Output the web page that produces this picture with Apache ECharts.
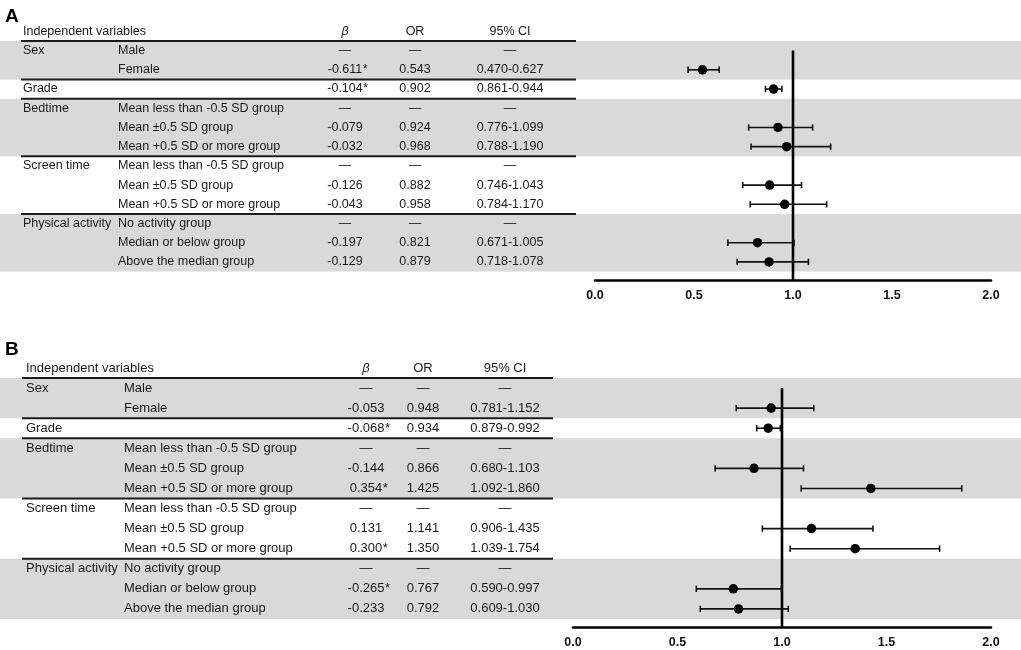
<!DOCTYPE html>
<html><head><meta charset="utf-8">
<script src="https://cdn.jsdelivr.net/npm/echarts@6/dist/echarts.min.js"></script>
<style>html,body{margin:0;padding:0;background:#fff}#c{width:1021px;height:650px}</style>
</head><body><div id="c"></div>
<script>
// ---------- data ----------
const headers = ["Independent variables", "\u03b2", "OR", "95% CI"];
const groupLabels = ["Sex", "", "Grade", "Bedtime", "", "", "Screen time", "", "", "Physical activity", "", ""];
const subLabels = ["Male", "Female", "", "Mean less than -0.5 SD group", "Mean \u00b10.5 SD group", "Mean +0.5 SD or more group",
  "Mean less than -0.5 SD group", "Mean \u00b10.5 SD group", "Mean +0.5 SD or more group",
  "No activity group", "Median or below group", "Above the median group"];
const shadedGroups = [[0, 1], [3, 5], [9, 11]];   // first and last row of each shaded group
const ruleAfterRow = [-1, 1, 2, 5, 8];            // rule lines below these rows (-1 = header)
const xTicks = [0, 0.5, 1, 1.5, 2];

const betaA = [null, -0.611, -0.104, null, -0.079, -0.032, null, -0.126, -0.043, null, -0.197, -0.129];
const sigA  = [false, true, true, false, false, false, false, false, false, false, false, false];
const orA   = [null, 0.543, 0.902, null, 0.924, 0.968, null, 0.882, 0.958, null, 0.821, 0.879];
const loA   = [null, 0.470, 0.861, null, 0.776, 0.788, null, 0.746, 0.784, null, 0.671, 0.718];
const hiA   = [null, 0.627, 0.944, null, 1.099, 1.190, null, 1.043, 1.170, null, 1.005, 1.078];

const betaB = [null, -0.053, -0.068, null, -0.144, 0.354, null, 0.131, 0.300, null, -0.265, -0.233];
const sigB  = [false, false, true, false, false, true, false, false, true, false, true, false];
const orB   = [null, 0.948, 0.934, null, 0.866, 1.425, null, 1.141, 1.350, null, 0.767, 0.792];
const loB   = [null, 0.781, 0.879, null, 0.680, 1.092, null, 0.906, 1.039, null, 0.590, 0.609];
const hiB   = [null, 1.152, 0.992, null, 1.103, 1.860, null, 1.435, 1.754, null, 0.997, 1.030];

// ---------- layout ----------
const FAMILY = "'Liberation Sans', Arial, sans-serif";
const panels = [
  { name: 'A', beta: betaA, sig: sigA, or: orA, lo: loA, hi: hiA,
    top: 41, rowH: 19.21, extra: 0.44, fs: 12.5, c1: 23, c2: 118, cb: 345, cor: 415, cci: 510,
    ruleL: 21, ruleR: 576, fx0: 595, fx1: 991, labelTop: 7 },
  { name: 'B', beta: betaB, sig: sigB, or: orB, lo: loB, hi: hiB,
    top: 378, rowH: 20.08, extra: 0.40, fs: 13, c1: 26, c2: 124, cb: 366, cor: 423, cci: 505,
    ruleL: 22, ruleR: 553, fx0: 573, fx1: 991, labelTop: 340 }
];
const nRows = subLabels.length;
const DASH = '\u2014';

const mctx = document.createElement('canvas').getContext('2d');
function textW(t, font) { mctx.font = font; return mctx.measureText(t).width; }

const grids = [], xAxes = [], yAxes = [], series = [], graphics = [];

panels.forEach((P, pi) => {
  const gTop = P.top - P.rowH;
  const gH = P.rowH * (nRows + 1 + P.extra);
  const yMax = nRows - 0.5 + P.extra;
  const font = P.fs + 'px ' + FAMILY;
  // table grid (full width)
  grids.push({ left: 0, width: 1021, top: gTop, height: gH });
  // forest grid
  grids.push({ left: P.fx0, width: P.fx1 - P.fx0, top: gTop, height: gH });
  const gT = pi * 2, gF = pi * 2 + 1;
  xAxes.push({ gridIndex: gT, type: 'value', min: 0, max: 1021, show: false });
  xAxes.push({ gridIndex: gF, type: 'value', min: 0, max: 2, interval: 0.5,
    axisLine: { show: true, onZero: false, lineStyle: { color: '#000', width: 2.6 } },
    axisTick: { show: false }, splitLine: { show: false },
    axisLabel: { color: '#111', fontWeight: 'bold', fontSize: 12.5, fontFamily: FAMILY, margin: 9,
      formatter: v => v.toFixed(1) } });
  yAxes.push({ gridIndex: gT, type: 'value', min: -1.5, max: yMax, inverse: true, show: false });
  yAxes.push({ gridIndex: gF, type: 'value', min: -1.5, max: yMax, inverse: true, show: false });

  // shaded bands
  series.push({ type: 'custom', xAxisIndex: gT, yAxisIndex: gT, z: 1, silent: true,
    data: shadedGroups.map(g => [g[0], g[1]]),
    renderItem: (params, api) => {
      const p1 = api.coord([0, api.value(0) - 0.5]);
      const p2 = api.coord([1021, api.value(1) + 0.5]);
      return { type: 'rect', shape: { x: p1[0], y: p1[1], width: p2[0] - p1[0], height: p2[1] - p1[1] },
        style: { fill: '#d9d9d9' } };
    } });
  // rules
  series.push({ type: 'custom', xAxisIndex: gT, yAxisIndex: gT, z: 3, silent: true,
    data: ruleAfterRow.map(r => [r]),
    renderItem: (params, api) => {
      const p1 = api.coord([P.ruleL, api.value(0) + 0.5]);
      const p2 = api.coord([P.ruleR, api.value(0) + 0.5]);
      return { type: 'line', shape: { x1: p1[0], y1: p1[1], x2: p2[0], y2: p2[1] },
        style: { stroke: '#1a1a1a', lineWidth: 2 } };
    } });
  // texts
  const texts = [];
  texts.push([P.c1, -1, headers[0], 'left', 'normal']);
  texts.push([P.cb, -1, headers[1], 'center', 'italic']);
  texts.push([P.cor, -1, headers[2], 'center', 'normal']);
  texts.push([P.cci, -1, headers[3], 'center', 'normal']);
  for (let i = 0; i < nRows; i++) {
    if (groupLabels[i]) texts.push([P.c1, i, groupLabels[i], 'left', 'normal']);
    if (subLabels[i]) texts.push([P.c2, i, subLabels[i], 'left', 'normal']);
    if (P.beta[i] === null) {
      texts.push([P.cb, i, DASH, 'center', 'normal']);
      texts.push([P.cor, i, DASH, 'center', 'normal']);
      texts.push([P.cci, i, DASH, 'center', 'normal']);
    } else {
      const bs = P.beta[i].toFixed(3);
      texts.push([P.cb, i, bs, 'center', 'normal']);
      if (P.sig[i]) texts.push([P.cb + textW(bs, font) / 2 + 0.5, i, '*', 'left', 'normal']);
      texts.push([P.cor, i, P.or[i].toFixed(3), 'center', 'normal']);
      texts.push([P.cci, i, P.lo[i].toFixed(3) + '-' + P.hi[i].toFixed(3), 'center', 'normal']);
    }
  }
  series.push({ type: 'custom', xAxisIndex: gT, yAxisIndex: gT, z: 4, silent: true,
    data: texts,
    renderItem: (params, api) => {
      const d = texts[params.dataIndex];
      const p = api.coord([d[0], d[1]]);
      return { type: 'text', x: p[0], y: p[1],
        style: { text: d[2], textAlign: d[3], textVerticalAlign: 'middle', fill: '#1a1a1a',
          font: d[4] + ' ' + P.fs + 'px ' + FAMILY } };
    } });

  // reference line at OR = 1
  series.push({ type: 'line', xAxisIndex: gF, yAxisIndex: gF, z: 5, symbol: 'none', silent: true,
    data: [[1, 0], [1, yMax]], lineStyle: { color: '#000', width: 2.6 } });
  // error bars
  const ci = [];
  for (let i = 0; i < nRows; i++) if (P.lo[i] !== null) ci.push([P.lo[i], P.hi[i], i]);
  series.push({ type: 'custom', xAxisIndex: gF, yAxisIndex: gF, z: 6, silent: true,
    data: ci, encode: { x: [0, 1], y: 2 },
    renderItem: (params, api) => {
      const a = api.coord([api.value(0), api.value(2)]);
      const b = api.coord([api.value(1), api.value(2)]);
      const st = { stroke: '#111', lineWidth: 1.6 };
      return { type: 'group', children: [
        { type: 'line', shape: { x1: a[0], y1: a[1], x2: b[0], y2: b[1] }, style: st },
        { type: 'line', shape: { x1: a[0], y1: a[1] - 3.2, x2: a[0], y2: a[1] + 3.2 }, style: st },
        { type: 'line', shape: { x1: b[0], y1: b[1] - 3.2, x2: b[0], y2: b[1] + 3.2 }, style: st }
      ] };
    } });
  // point estimates
  const pts = [];
  for (let i = 0; i < nRows; i++) if (P.or[i] !== null) pts.push([P.or[i], i]);
  series.push({ type: 'scatter', xAxisIndex: gF, yAxisIndex: gF, z: 7, silent: true,
    data: pts, symbol: 'circle', symbolSize: 9.5, itemStyle: { color: '#000', opacity: 1 } });

  graphics.push({ type: 'text', left: 5, top: P.labelTop,
    style: { text: P.name, font: 'bold 19px ' + FAMILY, fill: '#000' } });
});

const chart = echarts.init(document.getElementById('c'), null, { renderer: 'canvas' });
chart.setOption({
  animation: false,
  backgroundColor: '#fff',
  grid: grids, xAxis: xAxes, yAxis: yAxes, series: series, graphic: graphics
});
</script></body></html>
